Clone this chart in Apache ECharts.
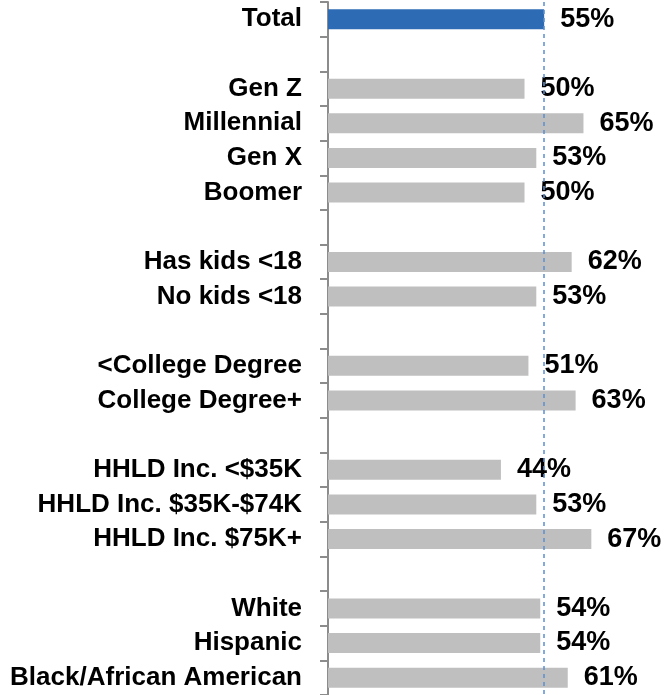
<!DOCTYPE html>
<html>
<head>
<meta charset="utf-8">
<script src="https://cdn.jsdelivr.net/npm/echarts@6/dist/echarts.min.js"></script>
<style>
  html, body { margin: 0; padding: 0; background: #fff; }
  #chart { width: 666px; height: 695px; }
</style>
</head>
<body>
<div id="chart"></div>
<script>
// categories, blank strings are the gaps between groups
const categories = [
  'Total', '',
  'Gen Z', 'Millennial', 'Gen X', 'Boomer', '',
  'Has kids <18', 'No kids <18', '',
  '<College Degree', 'College Degree+', '',
  'HHLD Inc. <$35K', 'HHLD Inc. $35K-$74K', 'HHLD Inc. $75K+', '',
  'White', 'Hispanic', 'Black/African American'
]
// percent values, null for gaps
const values = [
  55, null,
  50, 65, 53, 50, null,
  62, 53, null,
  51, 63, null,
  44, 53, 67, null,
  54, 54, 61
]
const totalValue = 55

const chart = echarts.init(document.getElementById('chart'))

const font = '"Liberation Sans", Arial, sans-serif'

const option = {
  animation: false,
  grid: { left: 328, right: 0, top: 2, height: 695 },
  xAxis: {
    type: 'value',
    min: 0,
    max: 86,
    show: false
  },
  yAxis: {
    type: 'category',
    inverse: true,
    data: categories,
    axisLine: { show: true, lineStyle: { color: '#8c8c8c', width: 2 } },
    axisTick: { show: true, length: 8, lineStyle: { color: '#8c8c8c', width: 2 } },
    axisLabel: {
      margin: 26,
      color: '#000',
      fontFamily: font,
      fontWeight: 'bold',
      fontSize: 26
    }
  },
  series: [
    {
      // dashed reference line at the total
      type: 'bar',
      data: [],
      z: 1,
      markLine: {
        silent: true,
        symbol: 'none',
        label: { show: false },
        lineStyle: { color: '#5b8fd0', type: [4, 4], width: 1.5 },
        data: [{ xAxis: totalValue }]
      }
    },
    {
      type: 'bar',
      data: values,
      barWidth: 20,
      z: 2,
      barGap: '-100%',
      itemStyle: {
        color: (p) => (p.dataIndex === 0 ? '#2e6bb5' : '#bfbfbf')
      },
      label: {
        show: true,
        position: 'right',
        distance: 16,
        color: '#000',
        fontFamily: font,
        fontWeight: 'bold',
        fontSize: 27,
        formatter: (p) => p.value + '%'
      }
    }
  ]
}

chart.setOption(option)
</script>
</body>
</html>
